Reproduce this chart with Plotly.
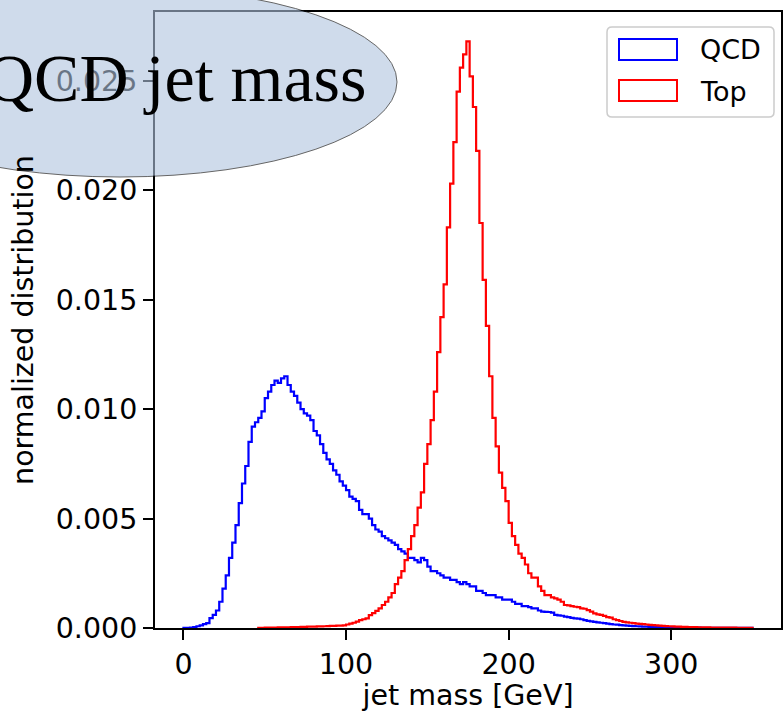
import plotly.graph_objects as go

# ---------------- data (normalized histogram contents, 2 GeV bins from 0 to 350 GeV) -------------
bin_lo, bin_hi, n_bins = 0.0, 350.0, 175
series_names = ["QCD", "Top"]
series_colors = ["#0000ff", "#ff0000"]

qcd_density = [
    0.00001, 0.00001, 0.00002, 0.00004, 0.00008, 0.00012, 0.00018, 0.00022, 0.00045, 0.0006,
    0.0008, 0.0012, 0.0018, 0.0024, 0.0032, 0.0039, 0.0047, 0.0057, 0.0066, 0.0074,
    0.0085, 0.0092, 0.0094, 0.0096, 0.0099, 0.0105, 0.0108, 0.0111, 0.0113, 0.0112,
    0.0114, 0.0115, 0.0111, 0.0108, 0.0106, 0.0103, 0.0100, 0.0098, 0.0097, 0.0095,
    0.0090, 0.0088, 0.0084, 0.0080, 0.0077, 0.0075, 0.0072, 0.0070, 0.0067, 0.0065,
    0.0063, 0.0060, 0.0059, 0.0058, 0.0054, 0.0052, 0.0052, 0.0050, 0.0047, 0.0045,
    0.0044, 0.0042, 0.0041, 0.0040, 0.0039, 0.0038, 0.0036, 0.0035, 0.0034, 0.0032,
    0.0032, 0.0031, 0.0030, 0.0032, 0.0031, 0.0028, 0.0026, 0.0026, 0.0025, 0.0024,
    0.0023, 0.0023, 0.0022, 0.0022, 0.0021, 0.0020, 0.0021, 0.0020, 0.0019, 0.0019,
    0.0017, 0.0017, 0.0016, 0.0015, 0.0015, 0.0015, 0.0014, 0.0014, 0.0013, 0.0013,
    0.0013, 0.0012, 0.0011, 0.0011, 0.0010, 0.0010, 0.00095, 0.0009, 0.0009, 0.0008,
    0.00075, 0.00074, 0.00073, 0.0007, 0.0006, 0.00058, 0.00056, 0.00052, 0.0005, 0.00046,
    0.00044, 0.00043, 0.0004, 0.00036, 0.00033, 0.0003, 0.00028, 0.00026, 0.00024, 0.00022,
    0.0002, 0.00018, 0.00016, 0.00015, 0.00013, 0.00012, 0.00011, 0.0001, 0.00009, 0.00008,
    0.00007, 0.00006, 0.00006, 0.00005, 0.00005, 0.00004, 0.00004, 0.00004, 0.00003, 0.00003,
    0.00003, 0.00003, 0.00002, 0.00002, 0.00002, 0.00002, 0.00002, 0.00002, 0.00002, 0.00001,
    0.00001, 0.00001, 0.00001, 0.00001, 0.00001, 0.00001, 0.00001, 0.00001, 0.00001, 0.00001,
    0.00001, 0.00001, 0.00001, 0.00001, 0.00001,
]

top_density = [
    0, 0, 0, 0, 0, 0, 0, 0, 0, 0,
    0, 0, 0, 0, 0, 0, 0, 0, 0, 0,
    0, 0, 0, 0.00001, 0.00001, 0.00002, 0.00002, 0.00002, 0.00002, 0.00003,
    0.00003, 0.00003, 0.00003, 0.00004, 0.00004, 0.00004, 0.00005, 0.00005, 0.00006, 0.00006,
    0.00006, 0.00007, 0.00007, 0.00008, 0.00009, 0.0001, 0.0001, 0.00011, 0.00011, 0.00012,
    0.00016, 0.0002, 0.00024, 0.00029, 0.00036, 0.0004, 0.00044, 0.00059, 0.00068, 0.00078,
    0.0009, 0.00105, 0.0012, 0.0014, 0.0016, 0.0020, 0.0023, 0.0026, 0.0031, 0.0036,
    0.0042, 0.0047, 0.0055, 0.0062, 0.0075, 0.0084, 0.0095, 0.0108, 0.0126, 0.0142,
    0.0157, 0.0183, 0.0203, 0.0222, 0.0245, 0.0256, 0.0262, 0.0268, 0.0252, 0.0238,
    0.0218, 0.0185, 0.0159, 0.0138, 0.0115, 0.0096, 0.0083, 0.0071, 0.0064, 0.0058,
    0.0048, 0.0042, 0.0038, 0.0034, 0.0032, 0.0029, 0.0025, 0.0023, 0.0023, 0.0019,
    0.0017, 0.0015, 0.0015, 0.0014, 0.00135, 0.0013, 0.0012, 0.00105, 0.00103, 0.0010,
    0.00097, 0.00095, 0.0009, 0.00088, 0.00082, 0.00075, 0.00067, 0.00062, 0.0006, 0.00055,
    0.0005, 0.00047, 0.0004, 0.00036, 0.00032, 0.00028, 0.00026, 0.00024, 0.00022, 0.0002,
    0.00019, 0.00018, 0.00016, 0.00014, 0.00013, 0.00012, 0.00011, 0.0001, 0.00009, 0.00008,
    0.00007, 0.00006, 0.00006, 0.00005, 0.00005, 0.00004, 0.00004, 0.00004, 0.00003, 0.00003,
    0.00003, 0.00003, 0.00002, 0.00002, 0.00002, 0.00002, 0.00002, 0.00002, 0.00002, 0.00002,
    0.00001, 0.00001, 0.00001, 0.00001, 0.00001,
]

x_tick_vals = [0, 100, 200, 300]
y_tick_vals = [0.0, 0.005, 0.010, 0.015, 0.020, 0.025]
y_tick_text = ["0.000", "0.005", "0.010", "0.015", "0.020", "0.025"]
title_text = "QCD jet mass"
x_title = "jet mass [GeV]"
y_title = "normalized distribution"

# ---------------- layout geometry -------------
W, H = 784, 712
ML, MR, MT, MB = 155, 3, 12, 84
PW, PH = W - ML - MR, H - MT - MB

def px(X):
    return (X - ML) / PW

def py(Y):
    return (H - MB - Y) / PH

edges = [bin_lo + i * (bin_hi - bin_lo) / n_bins for i in range(n_bins + 1)]

def step_xy(vals):
    start = next(i for i, v in enumerate(vals) if v > 0)
    xs = [edges[start]] + edges[start:n_bins] + [edges[n_bins], edges[n_bins]]
    ys = [0.0] + list(vals[start:n_bins]) + [vals[n_bins - 1], 0.0]
    return xs, ys

fig = go.Figure()
for name, vals, col in zip(series_names, [qcd_density, top_density], series_colors):
    xs, ys = step_xy(vals)
    fig.add_trace(go.Scatter(x=xs, y=ys, mode="lines", name=name,
                             line=dict(color=col, width=2.2, shape="hv"),
                             showlegend=False, hoverinfo="skip"))

ymax = 1.05 * max(max(qcd_density), max(top_density))
xpad = 0.05 * (bin_hi - bin_lo)

FONT = "DejaVu Sans"
FS_AX = 28.5
FS_LEG = 27

axis_common = dict(showline=True, linecolor="black", linewidth=2, mirror=True,
                   ticks="outside", ticklen=10, tickwidth=2, tickcolor="black",
                   showgrid=False, zeroline=False,
                   tickfont=dict(family=FONT, size=FS_AX, color="black"))

fig.update_xaxes(range=[bin_lo - xpad, bin_hi + xpad], tickvals=x_tick_vals,
                 title=dict(text=x_title, font=dict(family=FONT, size=FS_AX, color="black"), standoff=16),
                 **axis_common)
fig.update_yaxes(range=[0, ymax], tickvals=y_tick_vals, ticktext=y_tick_text,
                 title=dict(text=y_title, font=dict(family=FONT, size=FS_AX, color="black"), standoff=14),
                 **axis_common)

shapes = []
# title ellipse (semi transparent, drawn above the axes)
shapes.append(dict(type="circle", xref="paper", yref="paper",
                   x0=px(-157), x1=px(397), y0=py(177), y1=py(-13),
                   fillcolor="lightsteelblue", opacity=0.6,
                   line=dict(color="black", width=1), layer="above"))

# legend frame with rounded corners
lx0, lx1, ly0, ly1, r = 607, 774, 27, 117, 5
path = (f"M {px(lx0 + r)} {py(ly0)} L {px(lx1 - r)} {py(ly0)} "
        f"Q {px(lx1)} {py(ly0)} {px(lx1)} {py(ly0 + r)} "
        f"L {px(lx1)} {py(ly1 - r)} Q {px(lx1)} {py(ly1)} {px(lx1 - r)} {py(ly1)} "
        f"L {px(lx0 + r)} {py(ly1)} Q {px(lx0)} {py(ly1)} {px(lx0)} {py(ly1 - r)} "
        f"L {px(lx0)} {py(ly0 + r)} Q {px(lx0)} {py(ly0)} {px(lx0 + r)} {py(ly0)} Z")
shapes.append(dict(type="path", xref="paper", yref="paper", path=path,
                   fillcolor="rgba(255,255,255,0.8)", line=dict(color="#cccccc", width=1.5),
                   layer="above"))

annotations = [dict(text=title_text, xref="paper", yref="paper", x=px(176), y=py(78),
                    xanchor="center", yanchor="middle", showarrow=False,
                    font=dict(family="Liberation Serif", size=68, color="black"))]

for i, (name, col) in enumerate(zip(series_names, series_colors)):
    top_y = 39 + i * 41
    shapes.append(dict(type="rect", xref="paper", yref="paper",
                       x0=px(619), x1=px(677), y0=py(top_y + 21), y1=py(top_y),
                       line=dict(color=col, width=2), fillcolor="rgba(0,0,0,0)", layer="above"))
    annotations.append(dict(text=name, xref="paper", yref="paper", x=px(698), y=py(top_y + 11),
                            xanchor="left", yanchor="middle", showarrow=False,
                            font=dict(family=FONT, size=FS_LEG, color="black")))

fig.update_layout(width=W, height=H, margin=dict(l=ML, r=MR, t=MT, b=MB, autoexpand=False),
                  plot_bgcolor="white", paper_bgcolor="white", showlegend=False,
                  shapes=shapes, annotations=annotations)

fig.write_html("out.html", config={"displayModeBar": False},
               post_script="document.body.style.margin='0';document.body.style.overflow='hidden';")
